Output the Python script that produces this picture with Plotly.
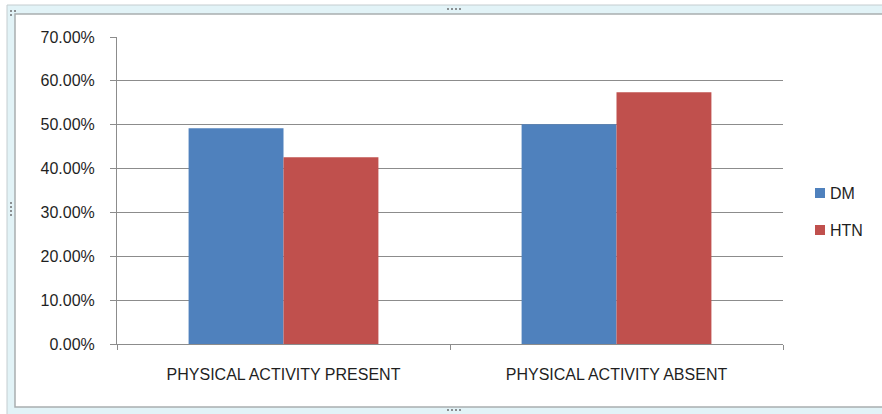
import plotly.graph_objects as go

# Data
categories = ["PHYSICAL ACTIVITY PRESENT", "PHYSICAL ACTIVITY ABSENT"]
series_names = ["DM", "HTN"]
dm_values = [0.492, 0.501]
htn_values = [0.426, 0.574]
y_ticks = [0.0, 0.1, 0.2, 0.3, 0.4, 0.5, 0.6, 0.7]
colors = ["#4f81bd", "#c0504d"]

W, H = 882, 414
L, R, T, B = 117, 783, 37, 344  # plot area in pixels
MR = 0
PW = W - L - MR                 # paper width in pixels

def px(x):
    return (x - L) / PW

def py(y):
    return (B - y) / (B - T)

font = dict(family="Liberation Sans", size=16, color="#1f1f1f")

fig = go.Figure()
for name, vals, col in zip(series_names, [dm_values, htn_values], colors):
    fig.add_trace(go.Bar(name=name, x=categories, y=vals,
                         marker=dict(color=col, line=dict(width=0)),
                         showlegend=False))

shapes = []
# outer window band
shapes.append(dict(type="rect", xref="paper", yref="paper",
                   x0=px(7), x1=px(900), y0=py(5), y1=py(430),
                   fillcolor="#e2f3f7", line=dict(color="#c4cdd0", width=1),
                   layer="below"))
# inner chart area
shapes.append(dict(type="rect", xref="paper", yref="paper",
                   x0=px(15), x1=px(900), y0=py(14), y1=py(407),
                   fillcolor="white", line=dict(color="#a9aeb0", width=1.5),
                   layer="below"))
# resize handles
for cx in [448, 452, 456, 460]:
    for cy in [9, 410]:
        shapes.append(dict(type="rect", xref="paper", yref="paper",
                           x0=px(cx - 1), x1=px(cx + 1), y0=py(cy - 1), y1=py(cy + 1),
                           fillcolor="#8a8f92", line=dict(width=0)))
for cy in [203, 207, 211, 215]:
    shapes.append(dict(type="rect", xref="paper", yref="paper",
                       x0=px(10), x1=px(12), y0=py(cy - 1), y1=py(cy + 1),
                       fillcolor="#8a8f92", line=dict(width=0)))
for cx, cy in [(11, 11), (15, 11), (11, 15)]:
    shapes.append(dict(type="rect", xref="paper", yref="paper",
                       x0=px(cx - 1), x1=px(cx + 1), y0=py(cy - 1), y1=py(cy + 1),
                       fillcolor="#8a8f92", line=dict(width=0)))

# legend: colour key squares and labels
annotations = []
for i, (name, col) in enumerate(zip(series_names, colors)):
    cy = 193 + 37 * i
    shapes.append(dict(type="rect", xref="paper", yref="paper",
                       x0=px(815), x1=px(825), y0=py(cy + 5), y1=py(cy - 5),
                       fillcolor=col, line=dict(width=0)))
    annotations.append(dict(xref="paper", yref="paper", x=px(828), y=py(cy),
                            xanchor="left", yanchor="middle", text=name,
                            showarrow=False, font=font))

fig.update_layout(
    width=W, height=H,
    margin=dict(l=L, r=MR, t=T, b=H - B, pad=0),
    paper_bgcolor="white", plot_bgcolor="rgba(0,0,0,0)",
    barmode="group", bargap=0.43, bargroupgap=0,
    font=font,
    showlegend=False,
    shapes=shapes,
    annotations=annotations,
    xaxis=dict(domain=[0, (R - L) / PW],
               showline=True, linecolor="#8c8c8c", linewidth=1,
               ticks="outside", tickson="boundaries", ticklen=5,
               tickcolor="#8c8c8c", showgrid=False,
               ticklabelstandoff=16, tickfont=font),
    yaxis=dict(range=[0, 0.7], tickvals=y_ticks, tickformat=".2%",
               showline=True, linecolor="#8c8c8c", linewidth=1,
               ticks="outside", ticklen=6, tickcolor="#8c8c8c",
               showgrid=True, gridcolor="#8c8c8c", gridwidth=1,
               zeroline=False, ticklabelstandoff=12, tickfont=font),
)

fig.write_html("out.html")
